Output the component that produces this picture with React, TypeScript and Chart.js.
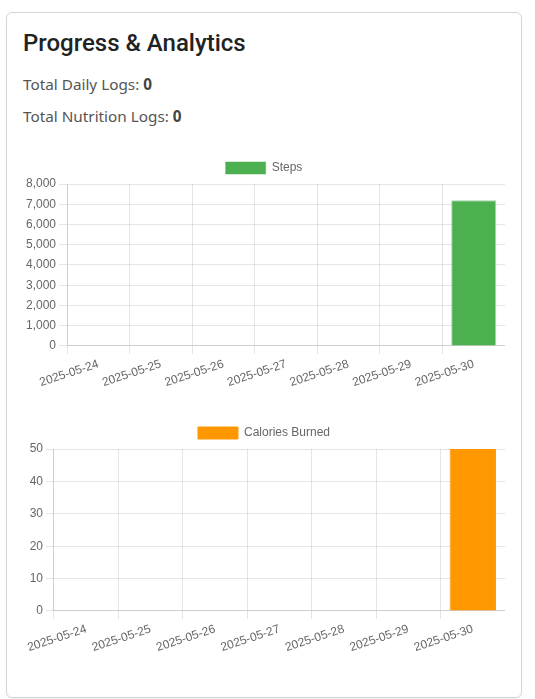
import React, { useEffect, useRef } from "react";
import { Chart, registerables } from "chart.js";

Chart.register(...registerables);

const dayLabels = [
  "2025-05-24",
  "2025-05-25",
  "2025-05-26",
  "2025-05-27",
  "2025-05-28",
  "2025-05-29",
  "2025-05-30",
];
const stepsValues = [0, 0, 0, 0, 0, 0, 7200];
const caloriesValues = [0, 0, 0, 0, 0, 0, 50];

const totalDailyLogs = 0;
const totalNutritionLogs = 0;

function makeConfig(label: string, values: number[], color: string, border: string, yStep?: number): any {
  return {
    type: "bar",
    data: {
      labels: dayLabels,
      datasets: [
        {
          label,
          data: values,
          backgroundColor: color,
          borderColor: border,
          borderWidth: 1,
        },
      ],
    },
    options: {
      animation: false,
      responsive: true,
      maintainAspectRatio: false,
      plugins: { legend: { display: true } },
      scales: {
        y: { beginAtZero: true, ticks: yStep ? { stepSize: yStep } : {} },
      },
    },
  };
}

function BarChart(props: { label: string; values: number[]; color: string; border: string; top: number; yStep?: number }) {
  const ref = useRef<HTMLCanvasElement | null>(null);
  useEffect(() => {
    if (!ref.current) return;
    const chart = new Chart(
      ref.current,
      makeConfig(props.label, props.values, props.color, props.border, props.yStep)
    );
    return () => chart.destroy();
  }, []);
  return (
    <div style={{ position: "absolute", left: 16, top: props.top, width: 482, height: 241 }}>
      <canvas ref={ref} />
    </div>
  );
}

export default function App() {
  const textStyle: React.CSSProperties = {
    position: "absolute",
    left: 16,
    fontFamily: "'Noto Sans', sans-serif",
    fontSize: 15.3,
    lineHeight: "20px",
    color: "#555",
    whiteSpace: "nowrap",
  };
  return (
    <div
      style={{
        position: "absolute",
        left: 6,
        top: 12,
        width: 516,
        height: 686,
        boxSizing: "border-box",
        border: "1px solid #d6d6d6",
        borderRadius: 6,
        boxShadow: "0 1px 2px rgba(0,0,0,0.06)",
        background: "#fff",
      }}
    >
      <div
        style={{
          position: "absolute",
          left: 16,
          top: 16,
          fontFamily: "Roboto, sans-serif",
          fontSize: 24,
          fontWeight: 500,
          lineHeight: "29px",
          color: "#222",
          whiteSpace: "nowrap",
        }}
      >
        Progress &amp; Analytics
      </div>
      <div style={{ ...textStyle, top: 61 }}>
        Total Daily Logs: <b style={{ color: "#444" }}>{totalDailyLogs}</b>
      </div>
      <div style={{ ...textStyle, top: 93 }}>
        Total Nutrition Logs: <b style={{ color: "#444" }}>{totalNutritionLogs}</b>
      </div>
      <BarChart label="Steps" values={stepsValues} color="#4CAF50" border="rgba(76,175,80,0.5)" top={139} />
      <BarChart
        label="Calories Burned"
        values={caloriesValues}
        color="#FF9800"
        border="#FF9800"
        top={404}
        yStep={10}
      />
    </div>
  );
}
